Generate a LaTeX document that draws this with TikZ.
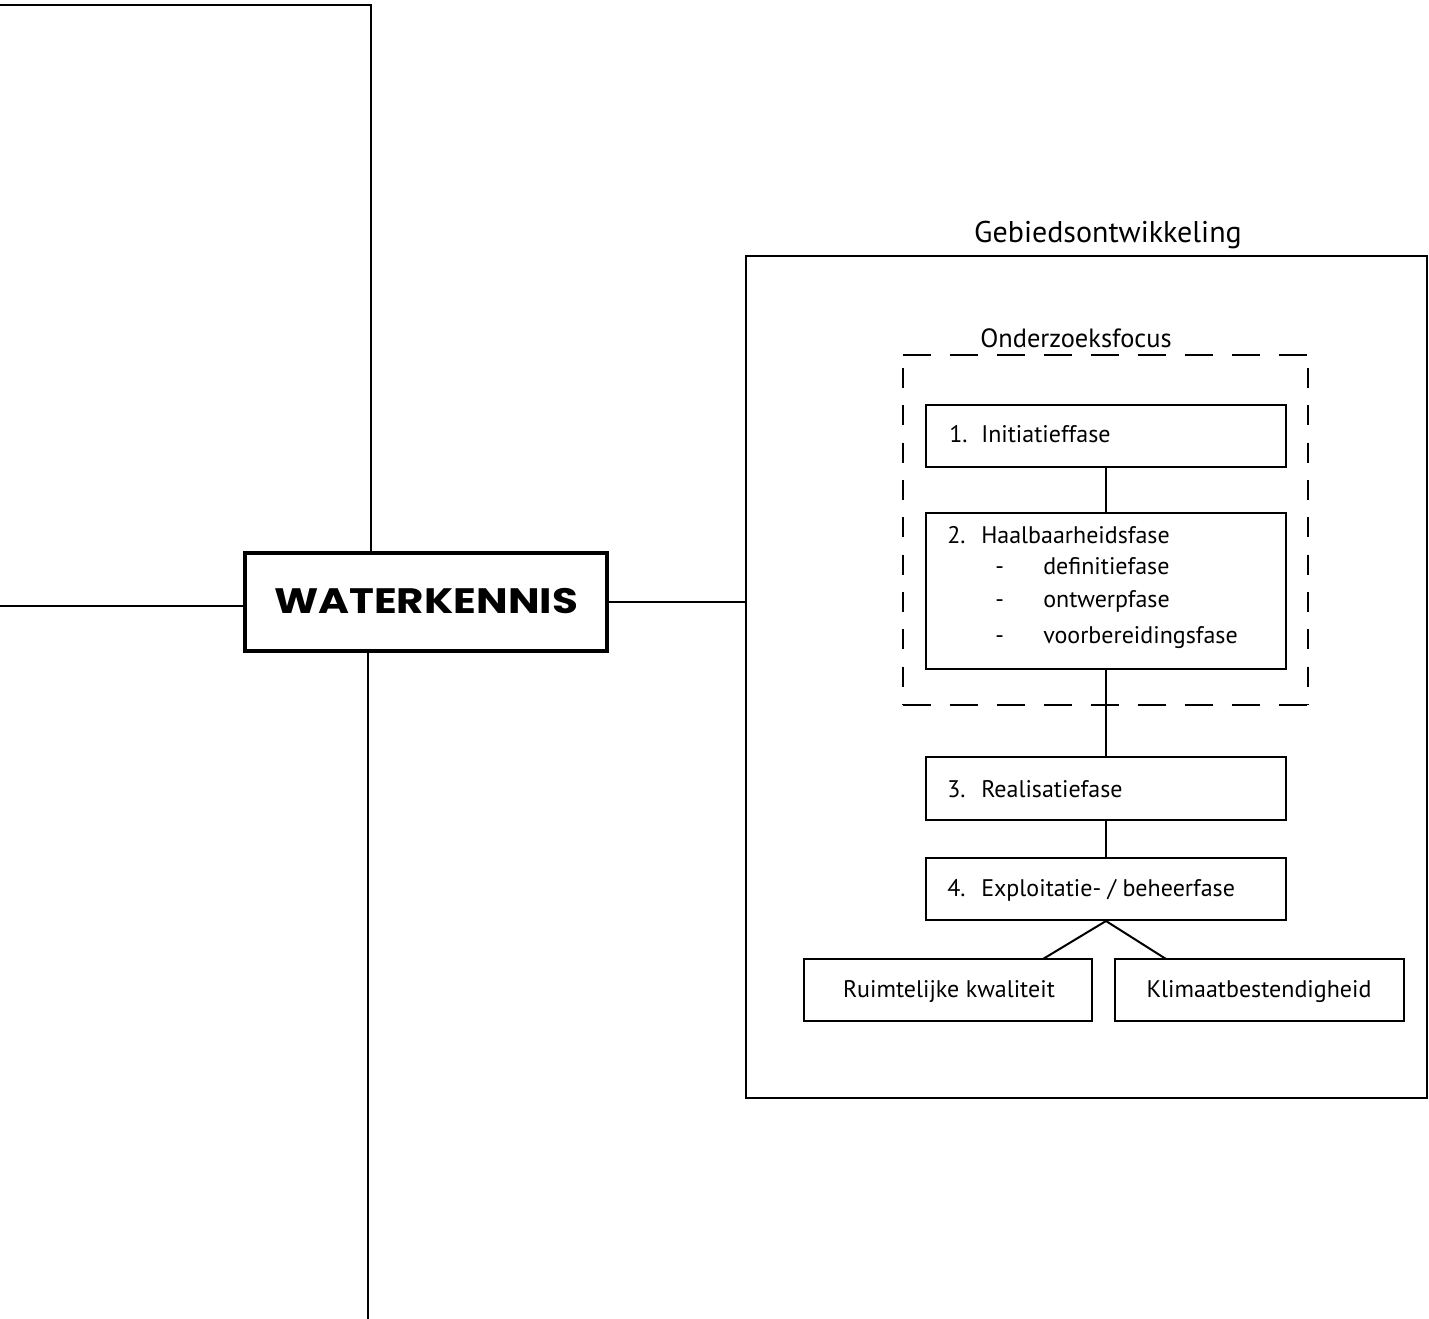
\documentclass[tikz,border=0pt]{standalone}
\usepackage{fontspec}
\setmainfont{PT Sans}
\newfontfamily\keyfont{Poppins}
\usetikzlibrary{fit}

\tikzset{
  frame/.style={draw, line width=1.5pt, inner sep=0pt},
  keybox/.style={draw, line width=3pt, inner sep=0pt},
  link/.style={line width=1.5pt},
  txt/.style={anchor=base west, inner sep=0pt, font=\fontsize{18}{21}\selectfont},
  hdash/.style={line width=1.5pt, dash pattern=on 21pt off 14.25pt},
  vdash/.style={line width=1.5pt, dash pattern=on 15pt off 13pt, dash phase=-10pt},
}

\begin{document}
\begin{tikzpicture}[x=0.75pt, y=-0.75pt]
\useasboundingbox (0,0) rectangle (1429,1319);

% central key box
\node[keybox, fit={(245,553) (607,651)}] (wk) {};
\node[anchor=base, inner sep=0pt, font=\fontsize{26.5}{31}\keyfont\bfseries] (wkt) at (426,614) {\scalebox{1.19}[1]{WATERKENNIS}};

% lines leaving the key box
\coordinate (topL) at (0,5);
\coordinate (topC) at (371,5);
\coordinate (leftE) at (0,606);
\coordinate (botE) at (368,1319);
\draw[link] (topL) -- (topC) -- (topC |- wk.north);
\draw[link] (leftE) -- (leftE -| wk.west);
\draw[link] (botE |- wk.south) -- (botE);

% area development frame
\node[frame, fit={(746,256) (1427,1098)}] (gebied) {};
\node[anchor=base, inner sep=0pt, font=\fontsize{22.5}{27}\selectfont] (gebiedt) at (1108,243) {Gebiedsontwikkeling};
\draw[link] (wk.east) -- (wk.east -| gebied.west);

% research focus (dashed)
\node[inner sep=0pt, fit={(903,355) (1308,705)}] (focus) {};
\draw[hdash] (focus.north west) -- (focus.north east);
\draw[hdash] (focus.south west) -- (focus.south east);
\draw[vdash] (focus.north west) -- (focus.south west);
\draw[vdash] (focus.north east) -- (focus.south east);
\node[anchor=base, inner sep=0pt, font=\fontsize{19.8}{23}\selectfont] (focust) at (1076,348) {Onderzoeksfocus};

% phases
\node[frame, fit={(926,405) (1286,467)}] (f1) {};
\node[frame, fit={(926,513) (1286,669)}] (f2) {};
\node[frame, fit={(926,757) (1286,820)}] (f3) {};
\node[frame, fit={(926,858) (1286,920)}] (f4) {};
\node[frame, fit={(804,959) (1092,1021)}] (rk) {};
\node[frame, fit={(1115,959) (1404,1021)}] (kb) {};

\node[txt] (n1) at (949,443) {1.};
\node[txt] (t1) at (981,443) {Initiatieffase};
\node[txt] (n2) at (947,544) {2.};
\node[txt] (t2) at (981,544) {Haalbaarheidsfase};
\node[txt] (d1) at (995,575) {-};
\node[txt] (s1) at (1043,575) {definitiefase};
\node[txt] (d2) at (995,607) {-};
\node[txt] (s2) at (1043,607) {ontwerpfase};
\node[txt] (d3) at (995,643) {-};
\node[txt] (s3) at (1043,643) {voorbereidingsfase};
\node[txt] (n3) at (947,797) {3.};
\node[txt] (t3) at (981,797) {Realisatiefase};
\node[txt] (n4) at (947,896) {4.};
\node[txt] (t4) at (981,896) {Exploitatie- / beheerfase};
\node[txt, anchor=base] (trk) at (949,997) {Ruimtelijke kwaliteit};
\node[txt, anchor=base] (tkb) at (1259,997) {Klimaatbestendigheid};

% connectors between phases
\draw[link] (f1.south) -- (f2.north);
\draw[link] (f2.south) -- (f3.north);
\draw[link] (f3.south) -- (f4.north);
\coordinate (rkj) at (1043,959);
\coordinate (kbj) at (1166,959);
\draw[link] (rkj) -- (f4.south) -- (kbj);
\end{tikzpicture}
\end{document}
